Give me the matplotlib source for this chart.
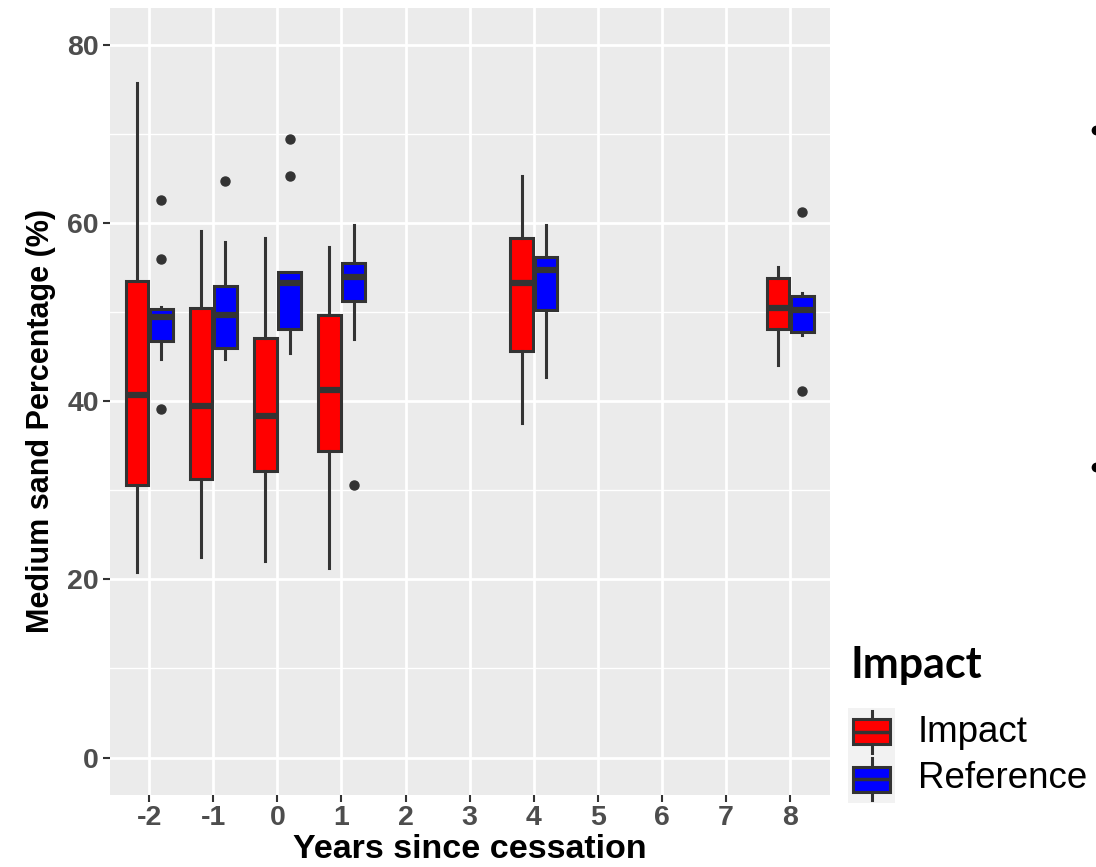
import matplotlib
matplotlib.use("Agg")
import matplotlib.pyplot as plt
from matplotlib.lines import Line2D

plt.rcParams['font.family'] = ['Liberation Sans', 'DejaVu Sans']

# years since cessation that were sampled
years = [-2, -1, 0, 1, 4, 8]

# Impact sites: box stats (%)
imp_lo = [20.8, 22.5, 22.1, 21.3, 37.5, 44.1]
imp_q1 = [30.6, 31.2, 32.2, 34.4, 45.6, 48.1]
imp_med = [40.7, 39.4, 38.3, 41.2, 53.2, 50.4]
imp_q3 = [53.5, 50.4, 47.1, 49.6, 58.3, 53.8]
imp_hi = [75.7, 59.1, 58.3, 57.3, 65.2, 55.0]
imp_out = [[], [], [], [], [], []]

# Reference sites: box stats (%)
ref_lo = [44.75, 44.7, 45.4, 47.0, 42.7, 47.4]
ref_q1 = [46.7, 46.0, 48.1, 51.2, 50.2, 47.8]
ref_med = [49.45, 49.6, 53.2, 53.9, 54.7, 50.2]
ref_q3 = [50.3, 52.9, 54.5, 55.5, 56.15, 51.8]
ref_hi = [50.5, 57.8, 54.5, 59.8, 59.7, 52.1]
ref_out = [[62.6, 55.9, 39.1], [64.7], [69.35, 65.25], [30.6], [], [61.2, 41.1]]

groups = ["Impact", "Reference"]
colors = {"Impact": "#FF0000", "Reference": "#0000FF"}

W, H = 1096, 867
fig = plt.figure(figsize=(W / 100, H / 100), dpi=100)
ax = fig.add_axes([110 / W, 1 - 795 / H, 720 / W, 787 / H])
ax.set_facecolor("#EBEBEB")

edge = "#333333"


def make_stats(lo, q1, med, q3, hi, out):
    return [dict(whislo=a, q1=b, med=c, q3=d, whishi=e, fliers=f)
            for a, b, c, d, e, f in zip(lo, q1, med, q3, hi, out)]


def draw_boxes(axis, stats, pos, color, width, lw=2.2, mlw=4.5, ms=6.5):
    axis.bxp(stats, positions=pos, widths=width, patch_artist=True,
             showcaps=False, manage_ticks=False,
             boxprops=dict(facecolor=color, edgecolor=edge, linewidth=lw),
             whiskerprops=dict(color=edge, linewidth=lw),
             medianprops=dict(color=edge, linewidth=mlw, solid_capstyle="butt"),
             flierprops=dict(marker="o", markerfacecolor=edge,
                             markeredgecolor=edge, markersize=ms))


off = 0.19
draw_boxes(ax, make_stats(imp_lo, imp_q1, imp_med, imp_q3, imp_hi, imp_out),
           [y - off for y in years], colors["Impact"], 0.355)
draw_boxes(ax, make_stats(ref_lo, ref_q1, ref_med, ref_q3, ref_hi, ref_out),
           [y + off for y in years], colors["Reference"], 0.355)

ax.set_xlim(-2.61, 8.62)
ax.set_ylim(-4.2, 84.1)
xt = list(range(-2, 9))
ax.set_xticks(xt)
ax.set_xticklabels([str(v) for v in xt])
ax.set_yticks([0, 20, 40, 60, 80])
ax.set_yticks([10, 30, 50, 70], minor=True)
ax.grid(which="major", color="white", linewidth=2.0)
ax.grid(which="minor", axis="y", color="white", linewidth=1.0)
ax.set_axisbelow(True)
for s in ax.spines.values():
    s.set_visible(False)
ax.tick_params(axis="both", which="major", color="#333333", length=5, width=1.5,
               labelsize=20.5, labelcolor="#4D4D4D", pad=3)
ax.tick_params(axis="x", which="major", pad=2)
ax.tick_params(axis="both", which="minor", length=0)
for lab in ax.get_xticklabels() + ax.get_yticklabels():
    lab.set_fontweight("bold")

ax.set_xlabel("Years since cessation", fontsize=24.5, fontweight="bold", labelpad=2)
ax.set_ylabel("Medium sand Percentage (%)", fontsize=22, fontweight="bold",
              labelpad=8, y=0.475)

# legend
fig.text(850 / W, 1 - 665 / H, "Impact", fontsize=31, fontweight="bold",
         family=["Lato", "DejaVu Sans"], va="center", ha="left")
lax = fig.add_axes([848 / W, 1 - 803 / H, 47 / W, 95 / H])
lax.set_xlim(0, 1)
lax.set_ylim(0, 2)
lax.axis("off")
lax.add_patch(plt.Rectangle((0, 0), 1, 2, facecolor="#F2F2F2", edgecolor="none"))
for i, g in enumerate(groups):
    base = 1 - i
    st = [dict(whislo=base + 0.06, q1=base + 0.24, med=base + 0.5,
               q3=base + 0.76, whishi=base + 0.94, fliers=[])]
    draw_boxes(lax, st, [0.5], colors[g], 0.78, lw=2.2, mlw=2.5)
    fig.text(918 / W, 1 - (733 + 46 * i) / H, g, fontsize=26.5,
             va="center", ha="left")

# bullet dots at the right edge
for yy in [130, 467]:
    fig.add_artist(Line2D([1096 / W], [1 - yy / H], marker="o", markersize=6,
                          color="black", transform=fig.transFigure))

fig.savefig("out.png", dpi=100)
